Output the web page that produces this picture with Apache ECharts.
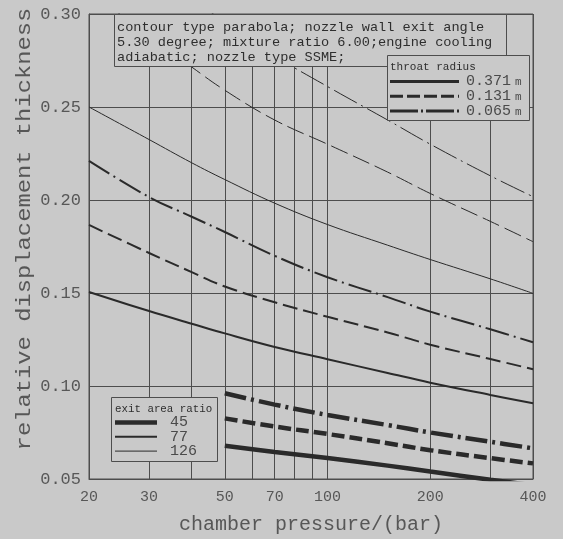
<!DOCTYPE html>
<html>
<head>
<meta charset="utf-8">
<script src="https://cdn.jsdelivr.net/npm/echarts@6/dist/echarts.min.js"></script>
<style>
  html, body { margin: 0; padding: 0; background: #c9c9c9; }
  #chart { width: 563px; height: 539px; }
</style>
</head>
<body>
<div id="chart"></div>
<script>
// chamber pressure grids (bar)
const pressuresFull = [20, 30, 40, 50, 70, 100, 150, 200, 300, 400];
const pressuresHigh = [50, 70, 100, 150, 200, 300, 400];

// relative displacement thickness, exit area ratio 45 (from 50 bar)
const ar45_r371 = [0.0679, 0.0645, 0.0613, 0.0572, 0.0540, 0.0496, 0.0466];
const ar45_r131 = [0.0826, 0.0782, 0.0742, 0.0692, 0.0655, 0.0612, 0.0584];
const ar45_r065 = [0.0961, 0.0900, 0.0844, 0.0790, 0.0750, 0.0700, 0.0665];
// exit area ratio 77
const ar77_r371 = [0.1505, 0.1403, 0.1335, 0.1283, 0.1210, 0.1144, 0.1070, 0.1018, 0.0952, 0.0907];
const ar77_r131 = [0.1866, 0.1715, 0.1612, 0.1535, 0.1450, 0.1372, 0.1288, 0.1222, 0.1145, 0.1090];
const ar77_r065 = [0.2210, 0.2016, 0.1910, 0.1828, 0.1700, 0.1585, 0.1478, 0.1400, 0.1305, 0.1235];
// exit area ratio 126
const ar126_r371 = [0.2500, 0.2325, 0.2200, 0.2110, 0.1983, 0.1868, 0.1757, 0.1680, 0.1576, 0.1498];
const ar126_r131 = [0.3120, 0.2885, 0.2715, 0.2590, 0.2430, 0.2300, 0.2150, 0.2035, 0.1885, 0.1776];
const ar126_r065 = [0.3550, 0.3270, 0.3090, 0.2955, 0.2775, 0.2610, 0.2430, 0.2300, 0.2130, 0.2018];

// axis ticks
const xGridValues = [20, 30, 40, 50, 60, 70, 80, 90, 100, 200, 300, 400];
const xLabelValues = [20, 30, 50, 70, 100, 200, 400];

const notes = [
  'contour type parabola; nozzle wall exit angle',
  '5.30 degree; mixture ratio 6.00;engine cooling',
  'adiabatic; nozzle type SSME;'
];
const throatRadiusLabels = ['0.371', '0.131', '0.065'];
const exitAreaLabels = ['45', '77', '126'];

const BG = '#c9c9c9';
const INK = '#2a2a2a';
const GRIDC = '#4d4d4d';
const MONO = '"Liberation Mono", "DejaVu Sans Mono", monospace';

function pairs(xs, ys) { return xs.map((x, i) => [x, ys[i]]); }

function curve(name, xs, ys, width, dash) {
  return {
    name: name,
    type: 'line',
    data: pairs(xs, ys),
    smooth: 0.4,
    symbol: 'none',
    clip: true,
    z: 5,
    silent: true,
    lineStyle: { color: INK, width: width, type: dash, cap: 'butt' }
  };
}

const series = [
  curve('126 / 0.371', pressuresFull, ar126_r371, 1, 'solid'),
  curve('126 / 0.131', pressuresFull, ar126_r131, 1, [18, 6]),
  curve('126 / 0.065', pressuresFull, ar126_r065, 1, [26, 5, 2, 5]),
  curve('77 / 0.371', pressuresFull, ar77_r371, 2, 'solid'),
  curve('77 / 0.131', pressuresFull, ar77_r131, 2, [15, 6]),
  curve('77 / 0.065', pressuresFull, ar77_r065, 2, [24, 5, 2, 5]),
  curve('45 / 0.371', pressuresHigh, ar45_r371, 4.5, 'solid'),
  curve('45 / 0.131', pressuresHigh, ar45_r131, 4.5, [13, 5]),
  curve('45 / 0.065', pressuresHigh, ar45_r065, 4.5, [22, 5, 3, 5])
];

// annotation and legend boxes drawn over the plot
const graphics = [];

graphics.push({
  type: 'rect', z: 100,
  shape: { x: 114.5, y: 14.5, width: 392, height: 52 },
  style: { fill: BG, stroke: GRIDC, lineWidth: 1 }
});
notes.forEach((t, i) => {
  graphics.push({
    type: 'text', z: 101, x: 117, y: 27.5 + i * 15,
    style: { text: t, font: '13.6px ' + MONO, fill: '#2e2e2e', textVerticalAlign: 'middle' }
  });
});

// throat radius legend
graphics.push({
  type: 'rect', z: 100,
  shape: { x: 387.5, y: 55.5, width: 142, height: 65 },
  style: { fill: BG, stroke: GRIDC, lineWidth: 1 }
});
graphics.push({
  type: 'text', z: 101, x: 390, y: 67,
  style: { text: 'throat radius', font: '11px ' + MONO, fill: '#2e2e2e', textVerticalAlign: 'middle' }
});
const throatDash = [null, [13, 4], [28, 3, 2, 3]];
throatRadiusLabels.forEach((lab, i) => {
  const y = 81.5 + i * 14.7;
  graphics.push({
    type: 'line', z: 101,
    shape: { x1: 390, y1: y, x2: 459, y2: y },
    style: { stroke: INK, lineWidth: 3, lineDash: throatDash[i] }
  });
  graphics.push({
    type: 'text', z: 101, x: 466, y: y,
    style: { text: lab, font: '15px ' + MONO, fill: '#4a4a4a', textVerticalAlign: 'middle' }
  });
  graphics.push({
    type: 'text', z: 101, x: 515, y: y + 1,
    style: { text: 'm', font: '11px ' + MONO, fill: '#4a4a4a', textVerticalAlign: 'middle' }
  });
});

// exit area ratio legend
graphics.push({
  type: 'rect', z: 100,
  shape: { x: 111.5, y: 397.5, width: 106, height: 64 },
  style: { fill: BG, stroke: GRIDC, lineWidth: 1 }
});
graphics.push({
  type: 'text', z: 101, x: 115, y: 409,
  style: { text: 'exit area ratio', font: '10.8px ' + MONO, fill: '#2e2e2e', textVerticalAlign: 'middle' }
});
const areaWidths = [4.5, 2, 1];
exitAreaLabels.forEach((lab, i) => {
  const y = 422.5 + i * 14.3;
  graphics.push({
    type: 'line', z: 101,
    shape: { x1: 115, y1: y, x2: 157, y2: y },
    style: { stroke: INK, lineWidth: areaWidths[i] }
  });
  graphics.push({
    type: 'text', z: 101, x: 170, y: y,
    style: { text: lab, font: '15px ' + MONO, fill: '#4a4a4a', textVerticalAlign: 'middle' }
  });
});

// y axis title, stretched along its run
graphics.push({
  type: 'text', z: 101, x: 25, y: 229, rotation: Math.PI / 2, scaleX: 1.19,
  style: {
    text: 'relative displacement thickness', font: '20px ' + MONO, fill: '#575757',
    textAlign: 'center', textVerticalAlign: 'middle'
  }
});

const chart = echarts.init(document.getElementById('chart'), null, { renderer: 'canvas' });
chart.setOption({
  backgroundColor: BG,
  animation: false,
  grid: {
    left: 89, right: 30, top: 14, bottom: 60,
    outerBoundsMode: 'none', containLabel: false,
    show: true, borderColor: GRIDC, borderWidth: 1, backgroundColor: 'transparent'
  },
  xAxis: {
    type: 'log', logBase: 10, min: 20, max: 400,
    name: 'chamber pressure/(bar)', nameLocation: 'middle', nameGap: 36,
    nameTextStyle: { fontFamily: MONO, fontSize: 20, color: '#575757' },
    axisLine: { show: true, lineStyle: { color: GRIDC, width: 1 } },
    axisTick: { show: false, customValues: xGridValues },
    axisLabel: {
      customValues: xLabelValues, margin: 11,
      fontFamily: MONO, fontSize: 15, color: '#575757',
      formatter: v => String(Math.round(v))
    },
    splitLine: { show: true, lineStyle: { color: GRIDC, width: 1 } },
    minorSplitLine: { show: false }
  },
  yAxis: {
    type: 'value', min: 0.05, max: 0.30, interval: 0.05,
    axisLine: { show: true, lineStyle: { color: GRIDC, width: 1 } },
    axisTick: { show: false },
    axisLabel: {
      margin: 8, fontFamily: MONO, fontSize: 17, color: '#575757',
      formatter: v => v.toFixed(2)
    },
    splitLine: { show: true, lineStyle: { color: GRIDC, width: 1 } }
  },
  series: series,
  graphic: graphics
});
</script>
</body>
</html>
